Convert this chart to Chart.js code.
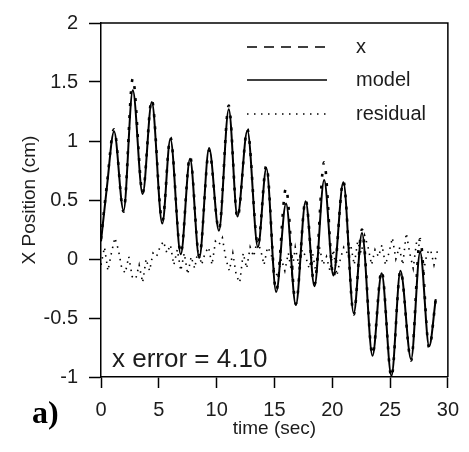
<!DOCTYPE html>
<html>
<head>
<meta charset="utf-8">
<script src="https://cdn.jsdelivr.net/npm/chart.js@4"></script>
<style>
  body { margin: 0; background: #fff; }
  canvas { display: block; }
</style>
</head>
<body>
<canvas id="js--chart" width="469" height="452"></canvas>
<script>
const modelTime = [0, 0.5, 1.13, 1.95, 2.75, 3.6, 4.39, 5.3, 6.0, 6.9, 7.7, 8.5, 9.35, 10.2, 11.05, 11.8, 12.66, 13.57, 14.3, 15.15, 16.0, 16.85, 17.7, 18.46, 19.3, 20.1, 20.96, 21.86, 22.57, 23.48, 24.27, 25.12, 25.9, 26.82, 27.6, 28.38, 28.95];
const modelValues = [0.15, 0.6, 1.08, 0.41, 1.43, 0.55, 1.33, 0.3, 1.02, 0.04, 0.85, 0.01, 0.94, 0.24, 1.27, 0.36, 1.09, 0.1, 0.77, -0.28, 0.47, -0.39, 0.49, -0.23, 0.67, -0.14, 0.65, -0.46, 0.22, -0.82, -0.12, -0.99, -0.1, -0.85, 0.06, -0.74, -0.34];
const xValues = [0.17, 0.62, 1.1, 0.4, 1.53, 0.56, 1.35, 0.32, 1.03, 0.05, 0.87, 0.02, 0.92, 0.25, 1.3, 0.35, 1.1, 0.12, 0.79, -0.27, 0.6, -0.38, 0.5, -0.22, 0.82, -0.15, 0.66, -0.47, 0.25, -0.81, -0.1, -1.0, -0.1, -0.86, 0.17, -0.75, -0.34];

// residual, sampled every 0.3 s
const residualStep = 0.3;
const residualValues = [
  -0.05, 0.1, -0.1, 0.05, 0.18, 0.08, -0.08, -0.12, 0.02, -0.15, -0.17,
  -0.05, -0.2, 0.0, -0.1, 0.05, 0.02, 0.1, 0.15, 0.05, 0.12,
  -0.05, 0.08, -0.1, 0.05, -0.13, 0.02, -0.08, 0.08, -0.05, 0.05,
  0.1, -0.05, 0.15, 0.12, 0.18, 0.0, -0.1, 0.05, -0.14, -0.2,
  0.05, -0.08, 0.1, 0.02, 0.15, 0.08, -0.05, 0.1, 0.05, -0.1,
  -0.15, 0.0, -0.1, 0.05, -0.12, 0.1, -0.05, 0.08, 0.02, -0.08,
  0.05, -0.12, 0.1, -0.05, 0.02, -0.1, 0.08, -0.14, 0.0, 0.1,
  0.05, 0.12, -0.05, 0.15, 0.05, 0.2, 0.1, -0.05, 0.08, 0.02,
  0.12, -0.05, 0.05, 0.18, 0.0, 0.1, -0.05, 0.22, 0.05, -0.08,
  0.15, 0.1, -0.1, 0.05, 0.08, -0.05, 0.07
];

const seriesNames = ["x", "model", "residual"];
const xTicks = [0, 5, 10, 15, 20, 25, 30];
const yTicks = [-1, -0.5, 0, 0.5, 1, 1.5, 2];
const errorText = "x error = 4.10";
const panelLabel = "a)";

const ink = "#1c1c1c";
const sans = "'Liberation Sans', Arial, sans-serif";

function points(ts, vs) {
    return vs.map((v, i) => ({x: ts[i], y: v}));
}
const residualPoints = residualValues.map((v, i) => ({x: i * residualStep, y: v}));

// frame, legend and annotation text
const extras = {
    id: "extras",
    afterDatasetsDraw(chart) {
        const ctx = chart.ctx;
        const a = chart.chartArea;
        ctx.save();
        ctx.strokeStyle = "#000";
        ctx.lineWidth = 1.5;
        ctx.beginPath();
        ctx.moveTo(a.left, a.top);
        ctx.lineTo(a.right, a.top);
        ctx.lineTo(a.right, a.bottom);
        ctx.stroke();

        // legend
        const rows = [24, 57, 91];
        chart.data.datasets.forEach((ds, i) => {
            const y = a.top + rows[i];
            ctx.strokeStyle = "#000";
            ctx.lineWidth = ds.legendWidth;
            ctx.setLineDash(ds.legendDash);
            ctx.beginPath();
            ctx.moveTo(a.left + 146, y);
            ctx.lineTo(a.left + 226, y);
            ctx.stroke();
            ctx.setLineDash([]);
            ctx.fillStyle = ink;
            ctx.font = "20px " + sans;
            ctx.textBaseline = "middle";
            ctx.textAlign = "left";
            ctx.fillText(ds.label, a.left + 255, y);
        });

        ctx.font = "26px " + sans;
        ctx.fillStyle = ink;
        ctx.textBaseline = "middle";
        ctx.fillText(errorText, a.left + 11, a.bottom - 17);

        ctx.font = "bold 32px 'Liberation Serif', 'Times New Roman', serif";
        ctx.fillStyle = "#000";
        ctx.fillText(panelLabel, 32, a.bottom + 38);
        ctx.restore();
    }
};

const config = {
    type: "line",
    data: {
        datasets: [
            {
                label: seriesNames[0],
                data: points(modelTime, xValues),
                borderColor: "#000",
                borderWidth: 2.6,
                borderDash: [3, 9],
                legendDash: [10, 7],
                legendWidth: 1.5,
                pointRadius: 0,
                cubicInterpolationMode: "monotone"
            },
            {
                label: seriesNames[1],
                data: points(modelTime, modelValues),
                borderColor: "#000",
                borderWidth: 2,
                legendDash: [],
                legendWidth: 1.5,
                pointRadius: 0,
                cubicInterpolationMode: "monotone"
            },
            {
                label: seriesNames[2],
                data: residualPoints,
                borderColor: "#000",
                borderWidth: 1.6,
                borderDash: [1.5, 5],
                legendDash: [1.5, 5.5],
                legendWidth: 1.5,
                pointRadius: 0,
                tension: 0
            }
        ]
    },
    options: {
        responsive: false,
        animation: false,
        layout: {padding: {left: 0, top: 16, right: 15, bottom: 0}},
        plugins: {legend: {display: false}, tooltip: {enabled: false}},
        scales: {
            x: {
                type: "linear",
                min: 0,
                max: 30,
                afterFit(scale) { scale.height = 75; },
                afterBuildTicks(scale) { scale.ticks = xTicks.map(v => ({value: v})); },
                grid: {drawOnChartArea: false, drawTicks: true, tickLength: 11, color: "#000", tickWidth: 1.5},
                border: {color: "#000", width: 1.5},
                ticks: {color: ink, font: {size: 20, family: sans}, padding: 10, callback: v => String(v)},
                title: {display: true, text: "time (sec)", color: ink, font: {size: 19, family: sans}, padding: {top: 0, bottom: 12}}
            },
            y: {
                min: -1,
                max: 2,
                afterFit(scale) { scale.width = 101; },
                afterBuildTicks(scale) { scale.ticks = yTicks.map(v => ({value: v})); },
                grid: {drawOnChartArea: false, drawTicks: true, tickLength: 12, color: "#000", tickWidth: 1.5},
                border: {color: "#000", width: 1.5},
                ticks: {color: ink, font: {size: 20, family: sans}, padding: 11, callback: v => String(v)},
                title: {display: true, text: "X Position (cm)", color: ink, font: {size: 19, family: sans}, padding: {top: 18, bottom: 0}}
            }
        }
    },
    plugins: [extras]
};

const chart1 = new Chart(document.getElementById("js--chart"), config);
</script>
</body>
</html>
